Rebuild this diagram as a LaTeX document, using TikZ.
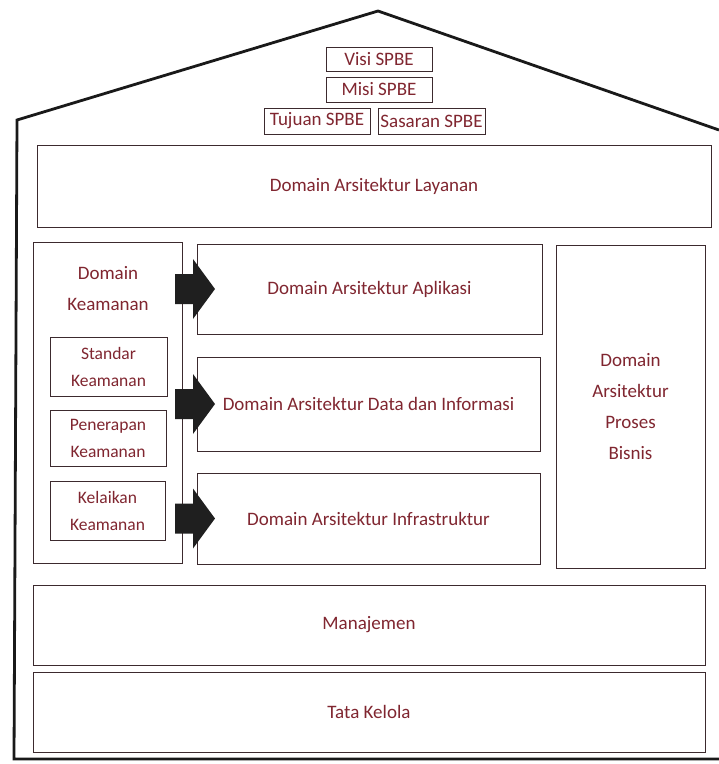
\documentclass[tikz,border=0pt]{standalone}
\usepackage{fontspec}
\setmainfont{Carlito}
\definecolor{ink}{RGB}{128,38,48}
\definecolor{edge}{RGB}{60,42,46}
\definecolor{blush}{RGB}{238,120,132}
\tikzset{
  box/.style={draw=edge, line width=1pt, inner sep=0pt, outer sep=0pt,
    preaction={draw=blush, line width=1pt, transform canvas={shift={(0.9pt,-0.9pt)}}},
    text=ink, align=center, font=\fontsize{19}{31}\selectfont},
  smallbox/.style={box, font=\fontsize{17.5}{27}\selectfont},
  label/.style={text=ink, align=center, inner sep=0pt},
  blockarrow/.style={fill=black!88, draw=none},
  house/.style={draw=black!90, line width=2.8pt, line join=miter}
}
% block arrow whose tail sits 7pt left of the given point
\newcommand{\blockarrowat}[1]{%
  \fill[blockarrow] (#1) ++(-7,-15) -- ++(18,0) -- ++(0,-15) -- ++(22,30)
    -- ++(-22,30) -- ++(0,-15) -- ++(-18,0) -- cycle;}
\begin{document}
\begin{tikzpicture}[x=1pt, y=-1pt]
\useasboundingbox (0,0) rectangle (719,764);
\fill[white] (0,0) rectangle (719,764);

% outline of the house
\coordinate (peak) at (378,11);
\coordinate (eaveL) at (17,120);
\coordinate (eaveR) at (719,130);
\coordinate (footL) at (14,759);
\coordinate (footR) at (719,759);
\draw[house] (eaveR) -- (peak) -- (eaveL) -- (footL) -- (footR);

% vision, mission, goals
\node[box, minimum width=106pt, minimum height=24pt] (visi) at (379,59) {Visi SPBE};
\node[box, minimum width=106pt, minimum height=25pt] (misi) at (379,89.5) {Misi SPBE};
\node[box, minimum width=106pt, minimum height=26pt] (tujuan) at (317,121) {Tujuan SPBE};
\node[box, minimum width=107pt, minimum height=26pt] (sasaran) at (431.5,121) {Sasaran SPBE};

% service domain
\node[box, minimum width=674pt, minimum height=82pt] (layanan) at (374,186) {Domain Arsitektur Layanan};

% security domain with its three parts
\node[box, minimum width=149pt, minimum height=321pt] (keamanan) at (107.5,402.5) {};
\node[label, font=\fontsize{19}{31}\selectfont] (keamananlbl) at (108,289) {Domain\\Keamanan};
\node[smallbox, minimum width=117pt, minimum height=59pt] (standar) at (108.5,366.5) {Standar\\Keamanan};
\node[smallbox, minimum width=116pt, minimum height=56pt] (penerapan) at (108,438) {Penerapan\\Keamanan};
\node[smallbox, minimum width=115pt, minimum height=59pt] (kelaikan) at (107.5,510.5) {Kelaikan\\Keamanan};

% architecture domains
\node[box, minimum width=345pt, minimum height=90pt] (aplikasi) at (369.5,289) {Domain Arsitektur Aplikasi};
\node[box, minimum width=343pt, minimum height=94pt] (data) at (368.5,404) {Domain Arsitektur Data dan Informasi};
\node[box, minimum width=343pt, minimum height=91pt] (infra) at (368.5,518.5) {Domain Arsitektur Infrastruktur};
\node[box, minimum width=149pt, minimum height=323pt] (bisnis) at (630.5,406.5) {Domain\\Arsitektur\\Proses\\Bisnis};

% block arrows from security to each domain
\coordinate (arrA) at (keamanan.east |- aplikasi.west);
\coordinate (arrB) at (keamanan.east |- data.west);
\coordinate (arrC) at (keamanan.east |- infra.west);
\blockarrowat{arrA}
\blockarrowat{arrB}
\blockarrowat{arrC}

% management and governance
\node[box, minimum width=672pt, minimum height=80pt] (manajemen) at (369,625) {Manajemen};
\node[box, minimum width=672pt, minimum height=80pt] (tatakelola) at (369,712) {Tata Kelola};
\end{tikzpicture}
\end{document}
